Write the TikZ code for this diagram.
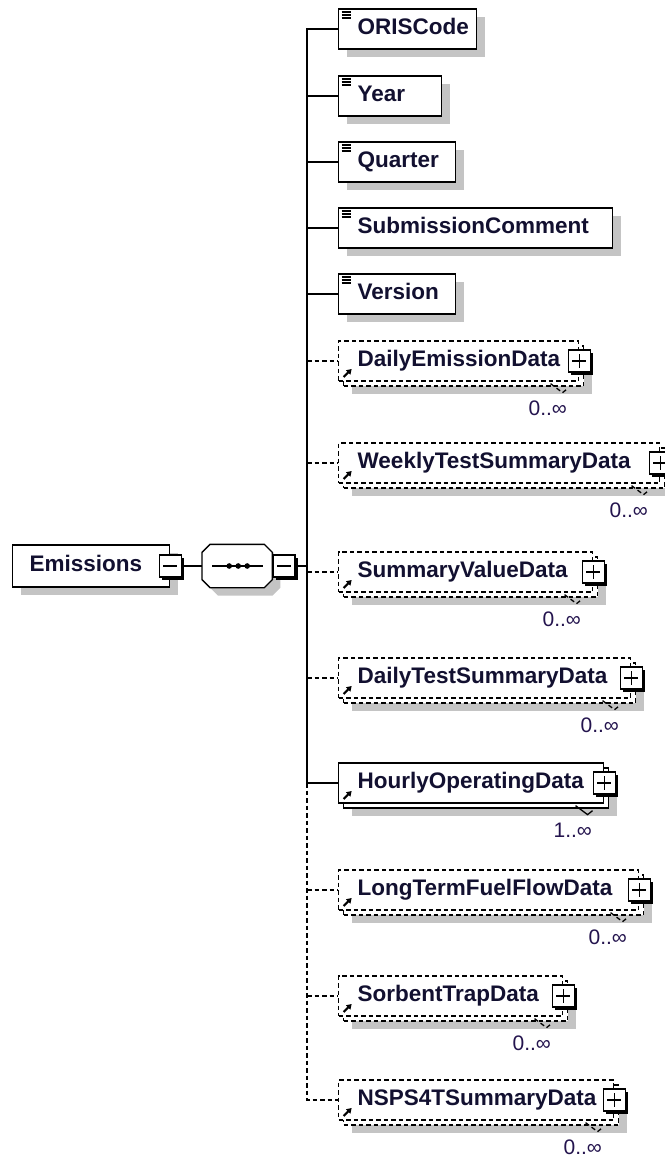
\documentclass[tikz,border=0pt]{standalone}
\usepackage{fontspec}
\setmainfont{Liberation Sans}
\usetikzlibrary{shadows, calc, arrows.meta, positioning}
\definecolor{shadowgray}{RGB}{196,196,196}
\definecolor{inkblue}{RGB}{18,16,48}
\definecolor{multink}{RGB}{36,20,78}
\newcommand{\elemfont}{\fontsize{22.5}{26}\selectfont\bfseries}
\newcommand{\multfont}{\fontsize{21}{24}\selectfont}

\begin{document}
\begin{tikzpicture}[
  x=1pt, y=-1pt, line width=1.3pt,
  opt/.style={dash pattern=on 4.5pt off 3pt},
  shadowed/.style={general shadow={fill=shadowgray, shadow xshift=8pt, shadow yshift=-8pt}},
  elem/.style={draw, fill=white, anchor=west, minimum height=40pt, inner xsep=19pt, inner ysep=0pt,
    text width=#1, align=left, text height=16pt, text depth=5pt, font=\elemfont, text=inkblue},
  simple/.style={elem=#1, shadowed, path picture={
    \foreach \d in {3,6,9} \draw[line width=1.2pt] ([shift={(3pt,-\d pt)}]path picture bounding box.north west) -- ++(9pt,0pt);}},
  refbox/.style={elem=#1, path picture={
    \draw[solid, line width=2.2pt, -{Triangle[length=5pt, width=6pt]}] ([shift={(5pt,4pt)}]path picture bounding box.south west) -- ++(8pt,8pt);}},
  backbox/.style={draw, fill=white, anchor=west, minimum width=#1, minimum height=40pt, inner sep=0pt, shadowed},
  pmbox/.style={draw, solid, fill=white, minimum size=22pt, inner sep=0pt, line width=1.5pt,
    general shadow={fill=black, shadow xshift=2.5pt, shadow yshift=-2.5pt}},
  minusbox/.style={pmbox, path picture={
    \draw[line width=1.5pt] ([xshift=4pt]path picture bounding box.west) -- ([xshift=-4pt]path picture bounding box.east);}},
  plusbox/.style={pmbox, path picture={
    \draw[line width=1.5pt] ([xshift=4pt]path picture bounding box.west) -- ([xshift=-4pt]path picture bounding box.east)
          ([yshift=-4pt]path picture bounding box.north) -- ([yshift=4pt]path picture bounding box.south);}},
  mult/.style={anchor=base east, inner sep=0pt, font=\multfont, text=multink}
]
  \fill[white, use as bounding box] (0,0) rectangle (664,1159);

  % root element and sequence compositor
  \node[elem=123pt, inner xsep=17pt, minimum height=42pt, shadowed] (root) at (12,566) {Emissions};
  \node[minusbox] (mroot) at (root.east) {};
  \node[minimum width=69pt, minimum height=42pt, inner sep=0pt, right=20pt of mroot] (seq) {};
  \draw[fill=white, shadowed] ([xshift=8pt]seq.north west) -- ([xshift=-8pt]seq.north east)
    -- ([yshift=-8pt]seq.north east) -- ([yshift=8pt]seq.south east) -- ([xshift=-8pt]seq.south east)
    -- ([xshift=8pt]seq.south west) -- ([yshift=8pt]seq.south west) -- ([yshift=-8pt]seq.north west) -- cycle;
  \draw ([xshift=10pt]seq.west) -- ([xshift=-9pt]seq.east);
  \foreach \dx in {-8,1,10} \fill ([xshift=\dx pt]seq.center) circle (2.8pt);
  \node[minusbox, anchor=west] (mseq) at (seq.east) {};
  \draw (mroot) -- (seq);
  \coordinate (bar) at (307,566);
  \draw (mseq) -- (bar);

  % simple elements
  \node[simple=100pt] (oris) at (338,29) {ORISCode};
  \node[simple=65pt] (year) at (338,96) {Year};
  \node[simple=79pt] (quarter) at (338,162) {Quarter};
  \node[simple=236pt] (comment) at (338,228) {SubmissionComment};
  \node[simple=79pt] (version) at (338,294) {Version};

  % repeated child elements
  \node[backbox=240pt, opt] (dailyb) at (343,366) {};
  \node[refbox=202pt, opt] (daily) at (338,361) {DailyEmissionData};
  \node[plusbox] (dailyp) at (daily.east) {};
  \draw[opt] ($(dailyp.west |- dailyb.south)+(-17pt,3pt)$) -- ++(12pt,-9pt) -- ++(5pt,4pt);
  \node[mult] (dailym) at ([yshift=-43pt]dailyp.south west) {0..∞};

  \node[backbox=321pt, opt] (weeklyb) at (343,468) {};
  \node[refbox=283pt, opt] (weekly) at (338,463) {WeeklyTestSummaryData};
  \node[plusbox] (weeklyp) at (weekly.east) {};
  \draw[opt] ($(weeklyp.west |- weeklyb.south)+(-17pt,3pt)$) -- ++(12pt,-9pt) -- ++(5pt,4pt);
  \node[mult] (weeklym) at ([yshift=-43pt]weeklyp.south west) {0..∞};

  \node[backbox=254pt, opt] (valueb) at (343,577) {};
  \node[refbox=216pt, opt] (value) at (338,572) {SummaryValueData};
  \node[plusbox] (valuep) at (value.east) {};
  \draw[opt] ($(valuep.west |- valueb.south)+(-17pt,3pt)$) -- ++(12pt,-9pt) -- ++(5pt,4pt);
  \node[mult] (valuem) at ([yshift=-43pt]valuep.south west) {0..∞};

  \node[backbox=292pt, opt] (testb) at (343,683) {};
  \node[refbox=254pt, opt] (test) at (338,678) {DailyTestSummaryData};
  \node[plusbox] (testp) at (test.east) {};
  \draw[opt] ($(testp.west |- testb.south)+(-17pt,3pt)$) -- ++(12pt,-9pt) -- ++(5pt,4pt);
  \node[mult] (testm) at ([yshift=-43pt]testp.south west) {0..∞};

  \node[backbox=265pt] (hourlyb) at (343,788) {};
  \node[refbox=227pt] (hourly) at (338,783) {HourlyOperatingData};
  \node[plusbox] (hourlyp) at (hourly.east) {};
  \draw ($(hourlyp.west |- hourlyb.south)+(-17pt,3pt)$) -- ++(12pt,-9pt) -- ++(5pt,4pt);
  \node[mult] (hourlym) at ([yshift=-43pt]hourlyp.south west) {1..∞};

  \node[backbox=300pt, opt] (fuelb) at (343,895) {};
  \node[refbox=262pt, opt] (fuel) at (338,890) {LongTermFuelFlowData};
  \node[plusbox] (fuelp) at (fuel.east) {};
  \draw[opt] ($(fuelp.west |- fuelb.south)+(-17pt,3pt)$) -- ++(12pt,-9pt) -- ++(5pt,4pt);
  \node[mult] (fuelm) at ([yshift=-43pt]fuelp.south west) {0..∞};

  \node[backbox=224pt, opt] (sorbentb) at (343,1001) {};
  \node[refbox=186pt, opt] (sorbent) at (338,996) {SorbentTrapData};
  \node[plusbox] (sorbentp) at (sorbent.east) {};
  \draw[opt] ($(sorbentp.west |- sorbentb.south)+(-17pt,3pt)$) -- ++(12pt,-9pt) -- ++(5pt,4pt);
  \node[mult] (sorbentm) at ([yshift=-43pt]sorbentp.south west) {0..∞};

  \node[backbox=275pt, opt] (nspsb) at (343,1105) {};
  \node[refbox=237pt, opt] (nsps) at (338,1100) {NSPS4TSummaryData};
  \node[plusbox] (nspsp) at (nsps.east) {};
  \draw[opt] ($(nspsp.west |- nspsb.south)+(-17pt,3pt)$) -- ++(12pt,-9pt) -- ++(5pt,4pt);
  \node[mult] (nspsm) at ([yshift=-43pt]nspsp.south west) {0..∞};

  % connectors
  \draw (oris.west) -- (bar |- oris.west) -- (bar |- hourly.west) -- (hourly.west);
  \draw (bar |- year.west) -- (year.west);
  \draw (bar |- quarter.west) -- (quarter.west);
  \draw (bar |- comment.west) -- (comment.west);
  \draw (bar |- version.west) -- (version.west);
  \draw[opt] (bar |- daily.west) -- (daily.west);
  \draw[opt] (bar |- weekly.west) -- (weekly.west);
  \draw[opt] (bar |- value.west) -- (value.west);
  \draw[opt] (bar |- test.west) -- (test.west);
  \draw[opt] (bar |- hourly.west) -- (bar |- nsps.west) -- (nsps.west);
  \draw[opt] (bar |- fuel.west) -- (fuel.west);
  \draw[opt] (bar |- sorbent.west) -- (sorbent.west);
\end{tikzpicture}
\end{document}
